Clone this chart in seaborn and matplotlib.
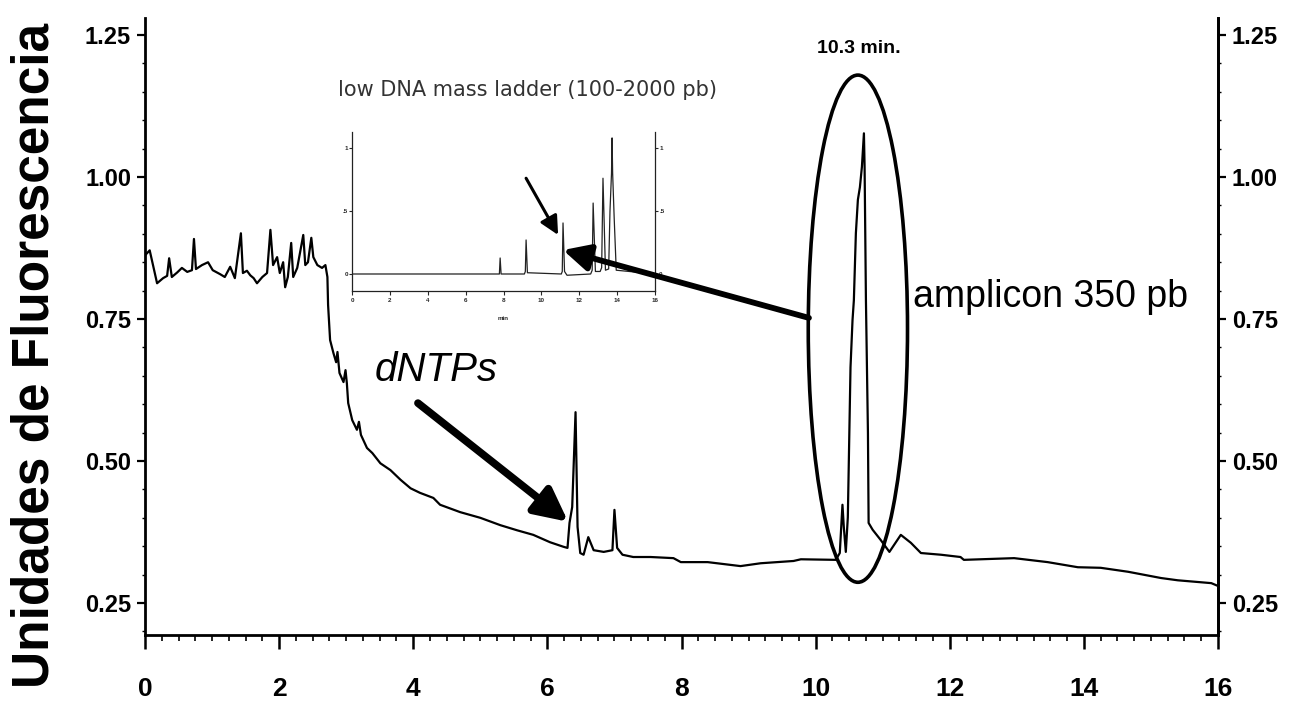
import matplotlib
matplotlib.use("Agg")
import matplotlib.pyplot as plt
import seaborn as sns
from matplotlib.patches import Ellipse
from matplotlib.ticker import MultipleLocator

# ---- main electropherogram (time in min, fluorescence units) ----
time_min = [0.00, 0.07, 0.12, 0.18, 0.27, 0.33, 0.36, 0.40, 0.48, 0.55, 0.63, 0.70, 0.73, 0.76,
            0.85, 0.94, 1.01, 1.12, 1.19, 1.27, 1.34, 1.43, 1.46, 1.52, 1.57, 1.62, 1.67, 1.75,
            1.82, 1.87, 1.91, 1.97, 2.01, 2.06, 2.09, 2.13, 2.18, 2.21, 2.27, 2.36, 2.39, 2.43,
            2.48, 2.51, 2.57, 2.64, 2.69, 2.72, 2.73,
            2.76, 2.81, 2.85, 2.87, 2.90, 2.96, 2.99, 3.01, 3.03, 3.09, 3.16, 3.19, 3.22, 3.31,
            3.39, 3.51, 3.66, 3.81, 3.96, 4.10, 4.30, 4.40, 4.70, 5.00, 5.30, 5.55, 5.79, 6.04,
            6.24, 6.30, 6.33, 6.37, 6.42, 6.45, 6.49, 6.54, 6.61, 6.69, 6.84, 6.97, 7.00, 7.04,
            7.12, 7.28, 7.54, 7.88, 7.99, 8.39, 8.88, 9.18, 9.67, 9.78, 10.22, 10.30, 10.36,
            10.40, 10.42, 10.45, 10.48, 10.52, 10.55, 10.57, 10.60, 10.63, 10.66, 10.69, 10.72,
            10.73, 10.75, 10.78, 10.79, 10.85, 10.97, 11.10, 11.27, 11.42, 11.57, 11.87, 12.16,
            12.21, 12.96, 13.46, 13.91, 14.25, 14.66, 15.15, 15.40, 15.90, 16.00]
fluor = [0.862, 0.871, 0.845, 0.813, 0.822, 0.826, 0.857, 0.824, 0.832, 0.840, 0.833, 0.836, 0.891, 0.838,
         0.845, 0.850, 0.836, 0.829, 0.824, 0.842, 0.822, 0.901, 0.831, 0.835, 0.827, 0.822, 0.813, 0.824,
         0.831, 0.907, 0.845, 0.859, 0.831, 0.850, 0.806, 0.824, 0.884, 0.824, 0.840, 0.898, 0.845, 0.850,
         0.893, 0.859, 0.845, 0.840, 0.845, 0.824, 0.775,
         0.713, 0.690, 0.674, 0.692, 0.655, 0.639, 0.660, 0.637, 0.602, 0.572, 0.555, 0.569, 0.546, 0.523,
         0.514, 0.496, 0.484, 0.467, 0.452, 0.444, 0.435, 0.423, 0.410, 0.400, 0.387, 0.378, 0.370, 0.357,
         0.349, 0.347, 0.391, 0.419, 0.586, 0.384, 0.338, 0.335, 0.366, 0.343, 0.340, 0.343, 0.414, 0.347,
         0.335, 0.331, 0.331, 0.329, 0.322, 0.322, 0.315, 0.320, 0.324, 0.327, 0.326, 0.326, 0.338,
         0.423, 0.384, 0.340, 0.401, 0.665, 0.748, 0.783, 0.901, 0.960, 0.982, 1.018, 1.077,
         1.018, 0.783, 0.549, 0.391, 0.379, 0.361, 0.340, 0.370, 0.356, 0.338, 0.335, 0.331,
         0.326, 0.329, 0.322, 0.313, 0.312, 0.305, 0.294, 0.290, 0.285, 0.280]

# ---- inset: low DNA mass ladder ----
ladder_time = [0.00, 7.70, 7.78, 7.82, 7.87, 9.10, 9.15, 9.19, 9.26, 11.05, 11.10, 11.14, 11.22,
               11.35, 12.60, 12.68, 12.73, 12.85, 13.10, 13.18, 13.25, 13.38, 13.55, 13.62, 13.70,
               13.73, 13.76, 13.84, 13.95, 16.00]
ladder_signal = [0.00, 0.00, 0.00, 0.127, 0.00, 0.00, 0.02, 0.27, 0.01, 0.00, 0.02, 0.405, 0.02,
                 -0.01, 0.00, 0.03, 0.563, 0.02, 0.02, 0.05, 0.76, 0.03, 0.04, 0.50, 0.80,
                 1.08, 0.80, 0.45, 0.03, 0.00]

x_ticks = [0, 2, 4, 6, 8, 10, 12, 14, 16]
x_ticklabels = ["0", "2", "4", "6", "8", "10", "12", "14", "16"]
y_ticks = [0.25, 0.50, 0.75, 1.00, 1.25]
y_ticklabels = ["0.25", "0.50", "0.75", "1.00", "1.25"]
ladder_xticks = [0, 2, 4, 6, 8, 10, 12, 14, 16]
ladder_yticks = [0.0, 0.5, 1.0]
ladder_yticklabels = ["0", ".5", "1"]

sns.set_theme(style="ticks")
plt.rcParams["font.family"] = ["Liberation Sans", "DejaVu Sans"]
NARROW = ["Liberation Sans Narrow", "Liberation Sans", "DejaVu Sans"]

fig = plt.figure(figsize=(12.9, 7.15), dpi=100)
ax = fig.add_axes([0.1124, 0.1119, 0.8318, 0.8629])
sns.lineplot(x=time_min, y=fluor, ax=ax, color="black", linewidth=1.6,
             estimator=None, sort=False)
ax.set_xlim(0, 16)
ax.set_ylim(0.1937, 1.28)
ax.set_xlabel("")
ax.set_ylabel("")
ax.spines["top"].set_visible(False)
for s in ["left", "right", "bottom"]:
    ax.spines[s].set_linewidth(2.0)
    ax.spines[s].set_color("black")

ax.set_xticks(x_ticks, labels=x_ticklabels, fontsize=19, fontweight="bold", family=NARROW)
ax.xaxis.set_minor_locator(MultipleLocator(0.25))
ax.tick_params(axis="x", which="major", direction="out", length=10, width=1.8, pad=20, colors="black")
ax.tick_params(axis="x", which="minor", direction="out", length=4, width=1.2, colors="black")
ax.set_yticks(y_ticks, labels=y_ticklabels, fontsize=17, fontweight="bold", family=NARROW)
ax.yaxis.set_minor_locator(MultipleLocator(0.05))
ax.tick_params(axis="y", which="major", direction="out", length=6, width=1.6, pad=4, colors="black")
ax.tick_params(axis="y", which="minor", direction="out", length=2.5, width=1.0, colors="black")

ax2 = ax.twinx()
ax2.set_ylim(0.1937, 1.28)
for s in ["left", "top", "bottom"]:
    ax2.spines[s].set_visible(False)
ax2.spines["right"].set_linewidth(2.0)
ax2.spines["right"].set_color("black")
ax2.set_yticks(y_ticks, labels=y_ticklabels, fontsize=17, fontweight="bold", family=NARROW)
ax2.yaxis.set_minor_locator(MultipleLocator(0.05))
ax2.tick_params(axis="y", which="major", direction="out", length=6, width=1.6, pad=4, colors="black")
ax2.tick_params(axis="y", which="minor", direction="out", length=2.5, width=1.0, colors="black")

fig.text(35 / 1290, 0.503, "Unidades de Fluorescencia", rotation=90, ha="center", va="center",
         fontsize=37, fontweight="bold", color="black")

# ellipse around amplicon peak
ax.add_patch(Ellipse((10.63, 0.733), 1.48, 0.893, fill=False, lw=2.6, ec="black",
                     zorder=4, clip_on=False))

ax.text(10.64, 1.227, "10.3 min.", ha="center", va="center", fontsize=14,
        fontweight="bold", color="black")
ax.text(11.45, 0.789, "amplicon 350 pb", ha="left", va="center", fontsize=27, color="black")
ax.text(3.43, 0.660, "dNTPs", ha="left", va="center", fontsize=29, style="italic", color="black")

ax.annotate("", xy=(6.31, 0.393), xytext=(4.07, 0.602),
            arrowprops=dict(arrowstyle="-|>,head_length=0.9,head_width=0.45", lw=5.5,
                            color="black", mutation_scale=22, shrinkA=0, shrinkB=0))

# inset
axins = fig.add_axes([0.2729, 0.593, 0.2349, 0.2224])
axins.patch.set_alpha(0)
sns.lineplot(x=ladder_time, y=ladder_signal, ax=axins, color="#222222", linewidth=0.9,
             estimator=None, sort=False)
axins.set_xlim(0, 16)
axins.set_ylim(-0.135, 1.127)
axins.set_xlabel("")
axins.set_ylabel("")
axins.spines["top"].set_visible(False)
for s in ["left", "right", "bottom"]:
    axins.spines[s].set_linewidth(0.9)
    axins.spines[s].set_color("#222222")
axins.set_xticks(ladder_xticks, labels=[str(t) for t in ladder_xticks], fontsize=4.5,
                 fontweight="bold")
axins.set_yticks(ladder_yticks, labels=ladder_yticklabels, fontsize=4.5, fontweight="bold")
axins.tick_params(axis="x", direction="out", length=3, width=0.8, pad=2)
axins.tick_params(axis="y", direction="out", length=2, width=0.8, pad=1,
                  right=True, labelright=True)
axins.text(0.497, -0.17, "min", transform=axins.transAxes, ha="center", va="center",
           fontsize=4.5, fontweight="bold")
axins.text(0.579, 1.264, "low DNA mass ladder (100-2000 pb)", transform=axins.transAxes,
           ha="center", va="center", fontsize=15, color="#333333", family=["DejaVu Sans"])

axins.annotate("", xy=(10.88, 0.31), xytext=(9.19, 0.76),
               arrowprops=dict(arrowstyle="-|>,head_length=0.8,head_width=0.4", lw=2.2,
                               color="black", mutation_scale=14, shrinkA=0, shrinkB=0))
axins.annotate("", xy=(11.14, 0.19), xycoords="data", xytext=(9.90, 0.752),
               textcoords=ax.transData, annotation_clip=False,
               arrowprops=dict(arrowstyle="-|>,head_length=0.8,head_width=0.4", lw=4.2,
                               color="black", mutation_scale=20, shrinkA=0, shrinkB=0))

fig.savefig("out.png", dpi=100)
